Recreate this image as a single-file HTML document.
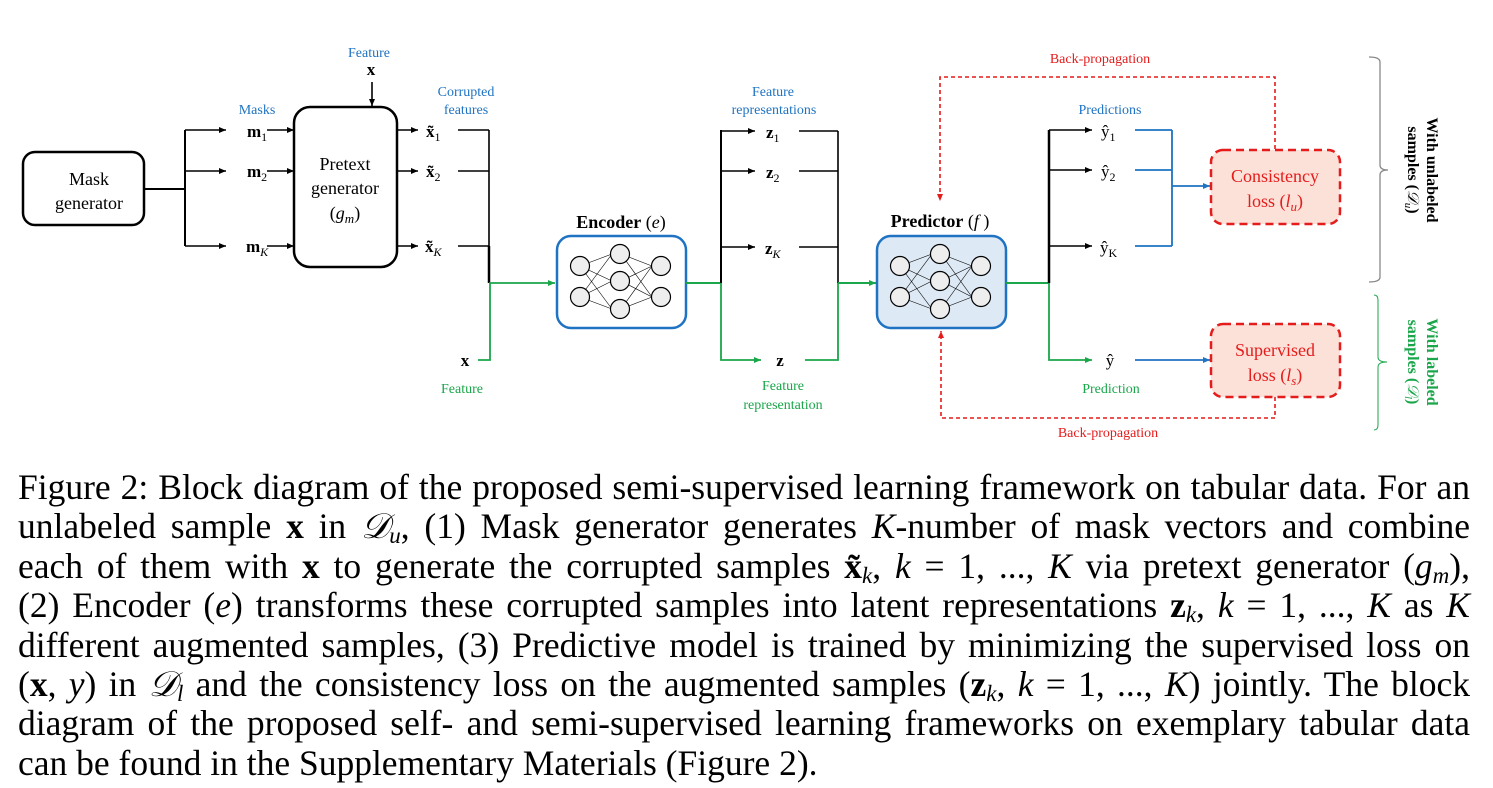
<!DOCTYPE html>
<html><head><meta charset="utf-8">
<style>
html,body{margin:0;padding:0;background:#fff;}
body{width:1493px;height:788px;position:relative;overflow:hidden;}
svg{position:absolute;left:0;top:0;}
.cap{position:absolute;left:18px;top:468px;width:1452px;font-family:"Liberation Serif",serif;font-size:35.5px;color:#000;}
.cap div{height:39.4px;line-height:39.4px;text-align:justify;text-align-last:justify;white-space:nowrap;word-spacing:-2px;}
.cap div.last{text-align-last:left;word-spacing:0;}
.cap i{font-style:italic;}
.cap sub,.cap .s{font-size:23px;line-height:0;vertical-align:-5px;}
</style></head><body>
<svg width="1493" height="460" viewBox="0 0 1493 460" font-family="Liberation Serif, serif">
<defs>
<marker id="ab" markerWidth="8" markerHeight="8" refX="7" refY="4" orient="auto" markerUnits="userSpaceOnUse"><path d="M0,1 L7,4 L0,7 z" fill="#000"/></marker>
<marker id="ag" markerWidth="8" markerHeight="8" refX="7" refY="4" orient="auto" markerUnits="userSpaceOnUse"><path d="M0,1 L7,4 L0,7 z" fill="#1aa64a"/></marker>
<marker id="au" markerWidth="8" markerHeight="8" refX="7" refY="4" orient="auto" markerUnits="userSpaceOnUse"><path d="M0,1 L7,4 L0,7 z" fill="#1f73c2"/></marker>
<marker id="ar" markerWidth="8" markerHeight="8" refX="7" refY="4" orient="auto" markerUnits="userSpaceOnUse"><path d="M0,1 L7,4 L0,7 z" fill="#e51c1c"/></marker>
<g id="nn" stroke="#000" stroke-width="0.6" fill="none">
<line x1="0" y1="0" x2="32" y2="-12"/><line x1="0" y1="0" x2="32" y2="15"/><line x1="0" y1="0" x2="32" y2="43"/>
<line x1="0" y1="31" x2="32" y2="-12"/><line x1="0" y1="31" x2="32" y2="15"/><line x1="0" y1="31" x2="32" y2="43"/>
<line x1="41" y1="-12" x2="72" y2="0"/><line x1="41" y1="-12" x2="72" y2="31"/>
<line x1="41" y1="15" x2="72" y2="0"/><line x1="41" y1="15" x2="72" y2="31"/>
<line x1="41" y1="43" x2="72" y2="0"/><line x1="41" y1="43" x2="72" y2="31"/>
</g>
</defs>

<rect x="23" y="152" width="121" height="73" rx="12" fill="#fff" stroke="#000" stroke-width="2.5"/>
<text x="89" y="185" font-size="18" text-anchor="middle">Mask</text>
<text x="89" y="209" font-size="18" text-anchor="middle">generator</text>
<path d="M144,189 H185 M185,130 V246" stroke="#000" stroke-width="2" fill="none"/>
<g stroke="#000" stroke-width="1.6" fill="none" marker-end="url(#ab)">
<path d="M185,130 H226"/><path d="M185,171 H226"/><path d="M185,246 H226"/>
<path d="M267,130 H294"/><path d="M267,171 H294"/><path d="M267,246 H294"/>
<path d="M398,130 H418"/><path d="M398,171 H418"/><path d="M398,246 H418"/>
<path d="M372,82 V106"/>
</g>
<text x="257" y="114" font-size="14" fill="#1f73c2" text-anchor="middle">Masks</text>
<text x="247" y="137" font-size="17" font-weight="bold">m<tspan font-size="12" font-weight="normal" dy="4">1</tspan></text>
<text x="247" y="177" font-size="17" font-weight="bold">m<tspan font-size="12" font-weight="normal" dy="4">2</tspan></text>
<text x="246" y="252" font-size="17" font-weight="bold">m<tspan font-size="12" font-weight="normal" font-style="italic" dy="4">K</tspan></text>

<rect x="294" y="107" width="103" height="160" rx="16" fill="#fff" stroke="#000" stroke-width="2.5"/>
<text x="345" y="170" font-size="18" text-anchor="middle">Pretext</text>
<text x="345" y="194" font-size="18" text-anchor="middle">generator</text>
<text x="345" y="219" font-size="18" text-anchor="middle">(<tspan font-style="italic">g<tspan font-size="13" dy="4">m</tspan></tspan><tspan dy="-4">)</tspan></text>
<text x="369" y="57" font-size="14" fill="#1f73c2" text-anchor="middle">Feature</text>
<text x="371" y="75" font-size="17" font-weight="bold" text-anchor="middle">x</text>

<text x="466" y="96" font-size="14" fill="#1f73c2" text-anchor="middle">Corrupted</text>
<text x="466" y="114" font-size="14" fill="#1f73c2" text-anchor="middle">features</text>
<text x="426" y="137" font-size="17" font-weight="bold">x̃<tspan font-size="12" font-weight="normal" dy="4">1</tspan></text>
<text x="426" y="177" font-size="17" font-weight="bold">x̃<tspan font-size="12" font-weight="normal" dy="4">2</tspan></text>
<text x="425" y="252" font-size="17" font-weight="bold">x̃<tspan font-size="12" font-weight="normal" font-style="italic" dy="4">K</tspan></text>
<path d="M458,130 H489 M458,171 H489 M458,246 H489 M489,130 V283" stroke="#000" stroke-width="1.6" fill="none"/>
<path d="M489,246 V283" stroke="#000" stroke-width="2.5"/>
<path d="M478,360 H490 V283 H555" stroke="#1aa64a" stroke-width="1.8" fill="none" marker-end="url(#ag)"/>
<text x="465" y="366" font-size="17" font-weight="bold" text-anchor="middle">x</text>
<text x="462" y="393" font-size="14" fill="#1aa64a" text-anchor="middle">Feature</text>

<text x="621" y="228" font-size="18" text-anchor="middle"><tspan font-weight="bold">Encoder</tspan> (<tspan font-style="italic">e</tspan>)</text>
<rect x="557" y="236" width="129" height="92" rx="14" fill="#fff" stroke="#1f73c2" stroke-width="2.5"/>
<use href="#nn" x="580" y="266"/>
<g fill="#eee" stroke="#000" stroke-width="1.2">
<circle cx="580" cy="266" r="9.5"/><circle cx="580" cy="297" r="9.5"/>
<circle cx="620" cy="254" r="9.5"/><circle cx="620" cy="281" r="9.5"/><circle cx="620" cy="309" r="9.5"/>
<circle cx="661" cy="266" r="9.5"/><circle cx="661" cy="297" r="9.5"/>
</g>
<path d="M686,283 H721" stroke="#1aa64a" stroke-width="2"/>
<path d="M721,130 V283" stroke="#000" stroke-width="2"/>
<g stroke="#000" stroke-width="1.6" fill="none" marker-end="url(#ab)">
<path d="M721,131 H755"/><path d="M721,171 H755"/><path d="M721,247 H755"/>
</g>
<text x="773" y="96" font-size="14" fill="#1f73c2" text-anchor="middle">Feature</text>
<text x="774" y="114" font-size="14" fill="#1f73c2" text-anchor="middle">representations</text>
<text x="766" y="138" font-size="17" font-weight="bold">z<tspan font-size="12" font-weight="normal" dy="4">1</tspan></text>
<text x="766" y="178" font-size="17" font-weight="bold">z<tspan font-size="12" font-weight="normal" dy="4">2</tspan></text>
<text x="765" y="254" font-size="17" font-weight="bold">z<tspan font-size="12" font-weight="normal" font-style="italic" dy="4">K</tspan></text>
<path d="M799,131 H838 M799,171 H838 M799,247 H838 M838,131 V283" stroke="#000" stroke-width="1.6" fill="none"/>
<path d="M721,283 V360 H761" stroke="#1aa64a" stroke-width="1.8" fill="none" marker-end="url(#ag)"/>
<path d="M805,360 H838 V283" stroke="#1aa64a" stroke-width="1.8" fill="none"/>
<text x="780" y="366" font-size="17" font-weight="bold" text-anchor="middle">z</text>
<text x="783" y="390" font-size="14" fill="#1aa64a" text-anchor="middle">Feature</text>
<text x="783" y="409" font-size="14" fill="#1aa64a" text-anchor="middle">representation</text>
<path d="M838,283 H876" stroke="#1aa64a" stroke-width="2" marker-end="url(#ag)"/>

<text x="940" y="227" font-size="18" text-anchor="middle"><tspan font-weight="bold">Predictor</tspan> (<tspan font-style="italic">f</tspan> )</text>
<rect x="877" y="236" width="129" height="92" rx="14" fill="#dde9f5" stroke="#1f73c2" stroke-width="2.5"/>
<use href="#nn" x="900" y="266"/>
<g fill="#eee" stroke="#000" stroke-width="1.2">
<circle cx="900" cy="266" r="9.5"/><circle cx="900" cy="297" r="9.5"/>
<circle cx="940" cy="254" r="9.5"/><circle cx="940" cy="281" r="9.5"/><circle cx="940" cy="309" r="9.5"/>
<circle cx="981" cy="266" r="9.5"/><circle cx="981" cy="297" r="9.5"/>
</g>
<path d="M1006,283 H1049" stroke="#1aa64a" stroke-width="2"/>
<path d="M1049,130 V283" stroke="#000" stroke-width="2.5"/>
<g stroke="#000" stroke-width="1.6" fill="none" marker-end="url(#ab)">
<path d="M1049,130 H1092"/><path d="M1049,170 H1092"/><path d="M1049,246 H1092"/>
</g>
<path d="M1049,283 V360 H1092" stroke="#1aa64a" stroke-width="1.8" fill="none" marker-end="url(#ag)"/>
<text x="1110" y="114" font-size="14" fill="#1f73c2" text-anchor="middle">Predictions</text>
<text x="1101" y="137" font-size="17">ŷ<tspan font-size="12" dy="4">1</tspan></text>
<text x="1101" y="177" font-size="17">ŷ<tspan font-size="12" dy="4">2</tspan></text>
<text x="1100" y="253" font-size="17">ŷ<tspan font-size="12" dy="4">K</tspan></text>
<text x="1110" y="366" font-size="17" text-anchor="middle">ŷ</text>
<text x="1111" y="393" font-size="14" fill="#1aa64a" text-anchor="middle">Prediction</text>
<path d="M1135,130 H1172 M1135,170 H1172 M1135,246 H1172 M1172,130 V246" stroke="#1f73c2" stroke-width="1.8" fill="none"/>
<path d="M1172,186 H1210" stroke="#1f73c2" stroke-width="1.8" marker-end="url(#au)"/>
<path d="M1135,360 H1210" stroke="#1f73c2" stroke-width="1.8" marker-end="url(#au)"/>

<rect x="1211" y="150" width="129" height="74" rx="12" fill="#fbe1d8" stroke="#e51c1c" stroke-width="2.5" stroke-dasharray="8,5"/>
<text x="1275" y="182" font-size="18" fill="#e51c1c" text-anchor="middle">Consistency</text>
<text x="1275" y="207" font-size="18" fill="#e51c1c" text-anchor="middle">loss (<tspan font-style="italic">l<tspan font-size="13" dy="4">u</tspan></tspan><tspan dy="-4">)</tspan></text>
<rect x="1211" y="324" width="129" height="73" rx="12" fill="#fbe1d8" stroke="#e51c1c" stroke-width="2.5" stroke-dasharray="8,5"/>
<text x="1275" y="356" font-size="18" fill="#e51c1c" text-anchor="middle">Supervised</text>
<text x="1275" y="381" font-size="18" fill="#e51c1c" text-anchor="middle">loss (<tspan font-style="italic">l<tspan font-size="13" dy="4">s</tspan></tspan><tspan dy="-4">)</tspan></text>

<path d="M1275,149 V77 H940 V201" stroke="#e51c1c" stroke-width="1.6" stroke-dasharray="4,3" fill="none" marker-end="url(#ar)"/>
<path d="M1275,397 V418 H941 V331" stroke="#e51c1c" stroke-width="1.6" stroke-dasharray="4,3" fill="none" marker-end="url(#ar)"/>
<text x="1100" y="63" font-size="14" fill="#e51c1c" text-anchor="middle">Back-propagation</text>
<text x="1108" y="437" font-size="14" fill="#e51c1c" text-anchor="middle">Back-propagation</text>

<path d="M1369,57 Q1380,57 1380,62 V165 Q1380,170 1388,170 Q1380,170 1380,175 V277 Q1380,282 1369,282" stroke="#888" stroke-width="1.3" fill="none"/>
<path d="M1374,295 Q1378,295 1378,300 V357 Q1378,362 1387,362 Q1378,362 1378,367 V425 Q1378,430 1374,430" stroke="#1aa64a" stroke-width="1" fill="none"/>
<text transform="translate(1427,170) rotate(90)" font-size="16" font-weight="bold" text-anchor="middle">With unlabeled</text>
<text transform="translate(1408,170) rotate(90)" font-size="16" font-weight="bold" text-anchor="middle">samples (<tspan font-style="italic" font-weight="normal">𝒟<tspan font-size="11" dy="3">u</tspan></tspan><tspan dy="-3">)</tspan></text>
<text transform="translate(1427,362) rotate(90)" font-size="16" font-weight="bold" fill="#1aa64a" text-anchor="middle">With labeled</text>
<text transform="translate(1408,362) rotate(90)" font-size="16" font-weight="bold" fill="#1aa64a" text-anchor="middle">samples (<tspan font-style="italic" font-weight="normal">𝒟<tspan font-size="11" dy="3">l</tspan></tspan><tspan dy="-3">)</tspan></text>
</svg>

<div class="cap">
<div>Figure 2: Block diagram of the proposed semi-supervised learning framework on tabular data. For an</div>
<div>unlabeled sample <b>x</b> in <i>𝒟<sub>u</sub></i>, (1) Mask generator generates <i>K</i>-number of mask vectors and combine</div>
<div>each of them with <b>x</b> to generate the corrupted samples <b>x̃</b><i class="s">k</i>, <i>k</i> = 1, ..., <i>K</i> via pretext generator (<i>g<sub>m</sub></i>),</div>
<div>(2) Encoder (<i>e</i>) transforms these corrupted samples into latent representations <b>z</b><i class="s">k</i>, <i>k</i> = 1, ..., <i>K</i> as <i>K</i></div>
<div>different augmented samples, (3) Predictive model is trained by minimizing the supervised loss on</div>
<div>(<b>x</b>, <i>y</i>) in <i>𝒟<sub>l</sub></i> and the consistency loss on the augmented samples (<b>z</b><i class="s">k</i>, <i>k</i> = 1, ..., <i>K</i>) jointly. The block</div>
<div>diagram of the proposed self- and semi-supervised learning frameworks on exemplary tabular data</div>
<div class="last">can be found in the Supplementary Materials (Figure 2).</div>
</div>
</body></html>
